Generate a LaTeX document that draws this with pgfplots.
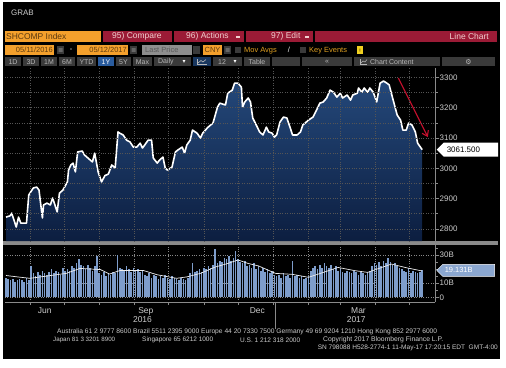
\documentclass[border=0pt]{standalone}
\usepackage{fontspec}
\setmainfont{Liberation Sans}
\newfontfamily\djv{DejaVu Sans}
\usepackage{pgfplots}
\usepackage{pgfplotstable}
\pgfplotsset{compat=1.18}
\usetikzlibrary{shapes.symbols,arrows.meta}
\definecolor{bborange}{HTML}{F4A02C}
\definecolor{orangetext}{HTML}{5C3A10}
\definecolor{bbred}{HTML}{9B1B36}
\definecolor{redtext}{HTML}{F2D0D0}
\definecolor{btngray}{HTML}{3A3A3A}
\definecolor{btntext}{HTML}{B8B8B8}
\definecolor{lastgray}{HTML}{8E8E8E}
\definecolor{bbyellow}{HTML}{E0A020}
\definecolor{keyyellow}{HTML}{F0D020}
\definecolor{bbtxt}{HTML}{CCCCCC}
\definecolor{fillTop}{HTML}{24487A}
\definecolor{fillBot}{HTML}{0C1E40}
\definecolor{volblue}{HTML}{7E9DCB}
\definecolor{gridc}{HTML}{555555}
\definecolor{arrowred}{HTML}{C8102E}
\definecolor{btnblue}{HTML}{2A5C9E}
\definecolor{axisgray}{HTML}{8A8A8A}

\pgfplotstableread{
d p
0 2839
3.5 2843
5 2852
7 2829
9 2806
11 2839
13 2819
15 2819
18 2819
20 2912
24 2935
27 2938
29 2928
32 2836
33 2879
36 2885
39 2879
41 2902
45 2856
47 2918
50 2928
54 2955
55 2994
57 3011
59 3017
61 2988
63 3054
67 3057
69 3044
72 3034
76 3021
78 3050
81 2988
84 2955
87 2976
90 2981
93 3011
96 3001
98.5 3120
100 3116
103 3110
106 3093
109 3087
112 3070
115 3070
118 3083
120 3067
122 3077
125 3093
128 3093
129.5 3034
133 3017
135 3027
138 3037
140 3001
142 2994
146 3004
149 3054
151 3060
155 3070
157 3050
159 3077
162 3093
164 3126
168 3116
171 3100
173 3116
177 3133
179 3140
182 3149
186 3202
188 3215
193 3209
195 3248
199 3258
201 3281
204 3281
207 3268
208 3202
210 3219
213 3232
215 3219
217 3166
221 3136
223 3120
226 3110
229 3136
231 3120
234 3116
236 3103
238 3110
241 3153
244 3169
247 3166
250 3133
252 3110
256 3110
259 3120
261 3143
263 3149
266 3159
270 3169
274 3199
276 3215
279 3219
282 3232
285 3258
288 3251
291 3235
294 3248
296 3232
300 3242
303 3225
305 3242
309 3248
310 3265
313 3251
315 3265
318 3251
320 3265
323 3251
326 3219
329 3281
332 3288
335 3281
337 3275
340 3232
344 3176
347 3159
349 3126
352 3126
354 3149
357 3143
360 3120
362 3083
366 3061.5
}\price

\pgfplotstableread{
d v
0 14
2 13
4 12
6 13
8 11
10 12
12 13
14 12
16 11
18 14
20 12
22 22
24 17
26 15
28 18
30 16
32 19
34 17
36 16
38 18
40 20
42 17
44 19
46 18
48 16
50 21
52 19
54 20
56 19
58 22
60 21
62 24
64 27
66 23
68 22
70 20
72 23
74 21
76 19
78 22
80 29
82 17
84 16
86 18
88 15
90 17
92 16
94 18
96 17
98 30
100 21
102 20
104 19
106 22
108 20
110 18
112 21
114 19
116 20
118 18
120 19
122 16
124 15
126 17
128 14
130 16
132 15
134 13
136 15
138 14
140 16
142 14
144 13
146 15
148 14
150 13
152 12
154 14
156 13
158 12
160 14
162 17
164 24
166 18
168 19
170 20
172 18
174 21
176 20
178 22
180 21
182 23
184 34
186 24
188 26
190 25
192 28
194 27
196 29
198 26
200 28
202 33
204 27
206 25
208 24
210 26
212 22
214 23
216 21
218 24
220 20
222 22
224 19
226 21
228 18
230 20
232 17
234 19
236 16
238 15
240 16
242 14
244 17
246 15
248 16
250 14
252 26
254 15
256 16
258 14
260 15
262 13
264 14
266 15
268 19
270 21
272 22
274 20
276 23
278 21
280 24
282 22
284 21
286 23
288 20
290 22
292 19
294 20
296 18
298 17
300 19
302 18
304 17
306 19
308 18
310 16
312 18
314 17
316 16
318 18
320 19
322 22
324 24
326 23
328 25
330 22
332 26
334 24
336 28
338 25
340 23
342 24
344 22
346 21
348 20
350 19
352 18
354 21
356 17
358 19
360 18
362 17
364 18
366 19.13
}\volume

\pgfplotstableread{
d m
0 15.5
10 14.5
21 13.5
35 15
53 17
65 20.5
83 19.7
91 16.5
100 19
121 19
133 16
150 13.5
159 14.5
171 17
184 21.5
195 24
204 26.5
213 24
222 22.3
237 17
252 16.3
266 14.2
272 15.8
292 21.2
307 18.9
318 17.7
339 23.6
352 21
366 18.7
}\volma

\newcommand{\tb}{\fontsize{8.5}{9}\selectfont}
\newcommand{\ts}{\fontsize{7.5}{8}\selectfont}
\newcommand{\tr}{\fontsize{7}{8}\selectfont}

\begin{document}
\begin{tikzpicture}[x=1bp,y=-1bp,inner sep=0pt]
\useasboundingbox (0,0) rectangle (506,367);
\fill[white] (0,0) rectangle (506,367);
\fill[black] (3,2) rectangle (500,359);
\node[anchor=west,text=bbtxt,font=\fontsize{8}{9}\selectfont] at (11,13) {GRAB};

% ---- row 1
\fill[bborange] (5,31) rectangle (101,42);
\node[anchor=west,text=orangetext,font=\tb] at (6,36.8) {SHCOMP Index};
\fill[bbred] (103,31) rectangle (497,42);
\fill[black] (172,31) rectangle (173.5,42);
\fill[black] (244,31) rectangle (245.5,42);
\fill[black] (313,31) rectangle (314.5,42);
\node[anchor=west,text=redtext,font=\tb] at (112,36.8) {95) Compare};
\node[anchor=west,text=redtext,font=\tb] at (186,36.8) {96) Actions};
\fill[redtext] (236,36) rectangle (240,37.6);
\node[anchor=west,text=redtext,font=\tb] at (271,36.8) {97) Edit};
\fill[redtext] (305,36) rectangle (309,37.6);
\node[anchor=east,text=redtext,font=\tb] at (489,36.8) {Line Chart};

% ---- row 2
\fill[bborange] (5,45) rectangle (54,55);
\node[anchor=east,text=orangetext,font=\ts] at (53,50.3) {05/11/2016};
\fill[btngray] (57,46) rectangle (64,54);
\fill[btntext] (58.5,48.6) rectangle (62.5,49.4) (58.5,50.6) rectangle (62.5,51.4);
\node[text=white,font=\ts] at (71,50) {-};
\fill[bborange] (77,45) rectangle (128,55);
\node[anchor=east,text=orangetext,font=\ts] at (127,50.3) {05/12/2017};
\fill[btngray] (130,46) rectangle (137,54);
\fill[btntext] (131.5,48.6) rectangle (135.5,49.4) (131.5,50.6) rectangle (135.5,51.4);
\fill[lastgray] (142,45) rectangle (192,55);
\node[anchor=west,text=black!65,font=\ts] at (145,50.3) {Last Price};
\fill[btngray] (193,46) rectangle (200,54);
\fill[bborange] (203,45) rectangle (222,55);
\node[text=orangetext,font=\ts] at (212.5,50.3) {CNY};
\fill[btngray] (224,46) rectangle (231,54);
\fill[btntext] (225.5,48.6) rectangle (229.5,49.4) (225.5,50.6) rectangle (229.5,51.4);
\fill[btngray] (235,47) rectangle (241,53);
\node[anchor=west,text=bbyellow,font=\ts] at (244,50.3) {Mov Avgs};
\node[text=white,font=\ts] at (289,50.3) {/};
\fill[btngray] (300,47) rectangle (306,53);
\node[anchor=west,text=bbyellow,font=\ts] at (309,50.3) {Key Events};
\fill[keyyellow] (357,46) rectangle (363,54);
\node[text=black,font=\fontsize{5}{6}\selectfont] at (360,50.3) {!};

% ---- row 3
\foreach \a/\b/\t in {5/21/1D,23/39/3D,41/57/1M,59/75/6M,77/96/YTD,116/131/5Y,133/152/Max,244/270/Table,272/300/{},302/352/{«},442/495/{}}{
  \fill[btngray] (\a,57) rectangle (\b,66);
  \node[text=btntext,font=\tr] at ({(\a+\b)/2},61.8) {\t};
}
\fill[btnblue] (98,57) rectangle (114,66);
\node[text=white,font=\tr] at (106,61.8) {1Y};
\fill[btngray] (154,57) rectangle (191,66);
\node[anchor=west,text=btntext,font=\tr] at (158,61.8) {Daily};
\node[text=white,font=\djv\fontsize{6}{7}\selectfont] at (184,61.8) {▾};
\fill[btnblue!60!black] (193,57) rectangle (211,66);
\draw[btntext,line width=0.6bp] (197,59) -- (197,64.5) -- (207,64.5);
\draw[btntext,line width=0.6bp] (198,63) -- (201,60.5) -- (203,62) -- (206,59.5);
\fill[btngray] (213,57) rectangle (242,66);
\node[anchor=west,text=btntext,font=\tr] at (218,61.8) {12};
\node[text=white,font=\djv\fontsize{6}{7}\selectfont] at (235,61.8) {▾};
\fill[btngray] (354,57) rectangle (440,66);
\draw[btntext,line width=0.5bp] (360,59) -- (360,64.5) -- (367,64.5);
\draw[btntext,line width=0.5bp] (361,63) -- (363,61) -- (365,62) -- (367,59.5);
\node[anchor=west,text=btntext,font=\tr] at (370,61.8) {Chart Content};
\node[text=btntext,font=\djv\fontsize{7}{8}\selectfont] at (468.5,61.8) {⚙};

% separator bar
\fill[axisgray] (3,241) rectangle (498,245);

% ---- price panel
\begin{axis}[
  at={(5bp,-241bp)}, anchor=south west,
  scale only axis, width=430bp, height=173bp,
  xmin=-0.9, xmax=377.3, ymin=2760, ymax=3331,
  axis y line*=right, axis x line*=bottom,
  x axis line style={draw=none},
  y axis line style={draw=axisgray, line width=0.6bp},
  xtick={21,51,82,113,143,174,204,235,266,294,325,355},
  xticklabels={}, xtick style={draw=none},
  ytick={2800,2900,3000,3100,3200,3300},
  minor ytick={2850,2950,3050,3150,3250},
  ytick style={draw=axisgray, line width=0.6bp},
  tick align=outside, major tick length=4bp, minor tick length=2.5bp,
  xmajorgrids, ymajorgrids, yminorgrids,
  major grid style={draw=gridc, dotted, line width=0.5bp},
  minor grid style={draw=gridc, dotted, line width=0.5bp},
  /pgf/number format/assume math mode=true,
  /pgf/number format/1000 sep={},
  yticklabel style={text=bbtxt, font=\fontsize{8}{9}\selectfont, xshift=0.5bp},
  axis on top, clip=false,
]
\addplot[draw=none, top color=fillTop, bottom color=fillBot] table[x=d,y=p] {\price}
  -- (axis cs:366,2760) -- (axis cs:0,2760) -- cycle;
\addplot[white, line width=1.6bp, line join=round] table[x=d,y=p] {\price};
\draw[arrowred, line width=1.1bp, -{Straight Barb[length=5bp,width=7bp]}] (axis cs:345,3298) -- (axis cs:371,3103);
\node[signal, signal to=west, fill=white, text=black, anchor=west, inner xsep=3bp, inner ysep=3bp,
  minimum height=14bp, font=\fontsize{8}{9}\selectfont, xshift=1.5bp] at (axis cs:377.3,3061.5) {3061.500\hspace*{15bp}};
\end{axis}

% ---- volume panel
\begin{axis}[
  at={(5bp,-302bp)}, anchor=south west,
  scale only axis, width=430bp, height=57bp,
  xmin=-0.9, xmax=377.3, ymin=-3.3, ymax=37.1,
  axis y line*=right, axis x line*=bottom,
  x axis line style={draw=axisgray, line width=0.6bp},
  y axis line style={draw=axisgray, line width=0.6bp},
  xtick={34,123,221,310}, xticklabels={Jun,Sep,Dec,Mar},
  minor xtick={21,51,82,113,143,174,204,235,266,294,325,355},
  major x tick style={draw=none},
  minor x tick style={draw=axisgray, line width=0.6bp},
  ytick={0,10,30}, yticklabels={0,10B,30B},
  minor ytick={5,15,20,25,35},
  ytick style={draw=axisgray, line width=0.6bp},
  tick align=outside, major tick length=4bp, minor tick length=2.5bp,
  xminorgrids, ymajorgrids,
  minor grid style={draw=gridc!70, dotted, line width=0.5bp},
  major grid style={draw=gridc!70, dotted, line width=0.5bp},
  /pgf/number format/assume math mode=true,
  yticklabel style={text=bbtxt, font=\fontsize{8}{9}\selectfont, xshift=0.5bp},
  xticklabel style={text=bbtxt, font=\fontsize{8.5}{9}\selectfont, yshift=-1bp},
  clip=false,
]
\addplot[ycomb, volblue, line width=1.6bp] table[x=d,y=v] {\volume};
\addplot[white!85!gray, line width=0.7bp] table[x=d,y=m] {\volma};
\node[signal, signal to=west, fill=volblue!90!white, draw=white, line width=0.4bp, text=white, anchor=west, inner xsep=2bp, inner ysep=2.5bp,
  minimum height=12bp, font=\fontsize{7.5}{8}\selectfont, xshift=1.5bp] at (axis cs:377.3,19.131) {19.131B\hspace*{20bp}};
\node[text=bbtxt, font=\fontsize{8.5}{9}\selectfont, yshift=-18bp] at (axis cs:120,-3.3) {2016};
\node[text=bbtxt, font=\fontsize{8.5}{9}\selectfont, yshift=-18bp] at (axis cs:308,-3.3) {2017};
\draw[axisgray, line width=0.5bp] (axis cs:237,-3.3) -- ++(0bp,-27bp);
\end{axis}

% ---- footer
\node[anchor=west,text=bbtxt] at (57,332) {\resizebox{380bp}{!}{Australia 61 2 9777 8600 Brazil 5511 2395 9000 Europe 44 20 7330 7500 Germany 49 69 9204 1210 Hong Kong 852 2977 6000}};
\node[anchor=west,text=bbtxt] at (53,340) {\resizebox{62bp}{!}{Japan 81 3 3201 8900}};
\node[anchor=west,text=bbtxt] at (142,340) {\resizebox{71bp}{!}{Singapore 65 6212 1000}};
\node[anchor=west,text=bbtxt] at (240,340) {\resizebox{60bp}{!}{U.S. 1 212 318 2000}};
\node[anchor=west,text=bbtxt] at (323,340) {\resizebox{120bp}{!}{Copyright 2017 Bloomberg Finance L.P.}};
\node[anchor=east,text=bbtxt] at (498,348) {\resizebox{180bp}{!}{SN 798088 H528-2774-1 11-May-17 17:20:15 EDT~~GMT-4:00}};
\end{tikzpicture}
\end{document}
